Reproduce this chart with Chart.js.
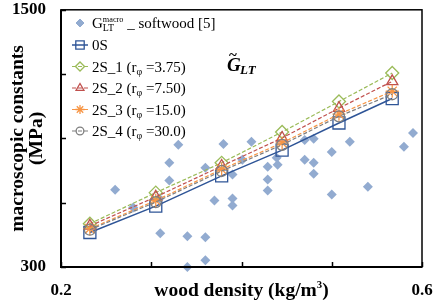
<!DOCTYPE html>
<html>
<head>
<meta charset="utf-8">
<script src="https://cdn.jsdelivr.net/npm/chart.js@4.4.1/dist/chart.umd.min.js"></script>
<style>
  html, body { margin: 0; padding: 0; background: #fff; }
  #wrap { width: 442px; height: 307px; position: relative; }
</style>
</head>
<body>
<div id="wrap"><canvas id="chart" width="442" height="307"></canvas></div>
<script>
// measured G_LT (softwood), scatter points
const refDensity = [0.260, 0.280, 0.309, 0.310, 0.320, 0.320, 0.330, 0.340, 0.340, 0.360,
  0.360, 0.360, 0.370, 0.380, 0.390, 0.390, 0.390, 0.401, 0.411, 0.429,
  0.429, 0.429, 0.439, 0.440, 0.470, 0.470, 0.480, 0.480, 0.480, 0.500,
  0.500, 0.520, 0.540, 0.580, 0.590];
const refGLT = [661, 578, 620, 458, 786, 703, 870, 444, 300, 763,
  439, 332, 610, 874, 731, 620, 587, 800, 884, 768,
  708, 657, 810, 777, 893, 800, 898, 786, 735, 837,
  638, 884, 675, 861, 925];

// model predictions
const modelDensity = [0.232, 0.305, 0.378, 0.445, 0.508, 0.567];
const g0S  = [461, 584, 725, 845, 972, 1086];
const g2S1 = [502, 647, 786, 930, 1072, 1205];
const g2S2 = [492, 627, 771, 902, 1041, 1166];
const g2S3 = [479, 610, 756, 879, 1013, 1120];
const g2S4 = [474, 603, 748, 870, 1003, 1106];

const seriesLabels = [
  'G_{LT}^{macro} _ softwood [5]',
  '0S',
  '2S_1 (r_{φ} =3.75)',
  '2S_2 (r_{φ} =7.50)',
  '2S_3 (r_{φ} =15.0)',
  '2S_4 (r_{φ} =30.0)'
];

const xTicks = [0.2, 0.6];
const yTicks = [300, 1500];

const SERIF = '"Liberation Serif", "Times New Roman", serif';

function pts(xs, ys) {
  return xs.map((x, i) => ({ x: x, y: ys[i] }));
}

function lineSet(label, ys, color, style, radius, dashed, order) {
  return {
    type: 'line',
    label: label,
    data: pts(modelDensity, ys),
    borderColor: color,
    borderWidth: dashed ? 1.2 : 1.5,
    borderDash: dashed ? [4, 2] : [],
    pointStyle: style,
    pointRadius: radius,
    pointBorderColor: color,
    pointBorderWidth: 1.3,
    pointBackgroundColor: 'rgba(255,255,255,0)',
    showLine: true,
    fill: false,
    order: order
  };
}

// small rich text helper: _{sub} and ^{sup}
function parseRich(str) {
  const segs = [];
  const re = /([_^])\{([^}]*)\}/g;
  let last = 0, m;
  while ((m = re.exec(str))) {
    if (m.index > last) segs.push({ t: str.slice(last, m.index), k: 'n' });
    segs.push({ t: m[2], k: m[1] === '_' ? 'sub' : 'sup' });
    last = re.lastIndex;
  }
  if (last < str.length) segs.push({ t: str.slice(last), k: 'n' });
  return segs;
}

function layoutRich(ctx, str, size, style) {
  let x = 0, prev = null;
  const items = [];
  for (const s of parseRich(str)) {
    const sz = s.k === 'n' ? size : (s.k === 'sup' ? size * 0.55 : size * 0.66);
    const font = `${style} ${sz}px ${SERIF}`;
    ctx.font = font;
    const w = ctx.measureText(s.t).width;
    let sx = x;
    if (s.k === 'sup' && prev && prev.k === 'sub') {
      sx = prev.x;
      x = Math.max(prev.x + prev.w, sx + w);
    } else {
      x = sx + w;
    }
    const dy = s.k === 'sub' ? size * 0.22 : (s.k === 'sup' ? -size * 0.42 : 0);
    const it = { t: s.t, k: s.k, x: sx, w: w, dy: dy, font: font };
    items.push(it);
    prev = it;
  }
  return { items: items, width: x };
}

function drawRich(ctx, str, x, y, size, style, align) {
  const lay = layoutRich(ctx, str, size, style);
  let x0 = x;
  if (align === 'center') x0 = x - lay.width / 2;
  ctx.textAlign = 'left';
  ctx.textBaseline = 'alphabetic';
  for (const it of lay.items) {
    ctx.font = it.font;
    ctx.fillText(it.t, x0 + it.x, y + it.dy);
  }
}

const decor = {
  id: 'decor',
  afterDatasetsDraw(chart) {
    const ctx = chart.ctx;
    const a = chart.chartArea;
    const xs = chart.scales.x, ys = chart.scales.y;
    ctx.save();

    // frame
    ctx.strokeStyle = '#000';
    ctx.lineWidth = 1.5;
    ctx.strokeRect(a.left, a.top, a.right - a.left, a.bottom - a.top);
    ctx.lineWidth = 2;
    ctx.beginPath();
    ctx.moveTo(a.left, a.top);
    ctx.lineTo(a.left, a.bottom);
    ctx.lineTo(a.right, a.bottom);
    ctx.stroke();

    // inward tick marks
    ctx.lineWidth = 1.5;
    ctx.beginPath();
    xs.ticks.forEach(t => {
      const px = Math.round(xs.getPixelForValue(t.value)) + 0.5;
      ctx.moveTo(px, a.bottom);
      ctx.lineTo(px, a.bottom - 5);
    });
    ys.ticks.forEach(t => {
      const py = Math.round(ys.getPixelForValue(t.value)) + 0.5;
      ctx.moveTo(a.left, py);
      ctx.lineTo(a.left + 5, py);
    });
    ctx.stroke();

    // legend
    ctx.fillStyle = '#000';
    const rowY = [23, 45, 66.5, 88, 109.5, 131];
    chart.data.datasets.forEach((ds, i) => {
      const cy = rowY[i];
      if (ds.showLine) {
        ctx.save();
        ctx.strokeStyle = ds.borderColor;
        ctx.lineWidth = ds.borderWidth;
        ctx.setLineDash(ds.borderDash || []);
        ctx.beginPath();
        ctx.moveTo(72, cy);
        ctx.lineTo(88, cy);
        ctx.stroke();
        ctx.restore();
      }
      ctx.save();
      ctx.strokeStyle = ds.pointBorderColor;
      ctx.fillStyle = ds.pointBackgroundColor;
      ctx.lineWidth = ds.pointBorderWidth || 1;
      Chart.helpers.drawPoint(ctx, {
        pointStyle: ds.pointStyle,
        rotation: 0,
        borderWidth: ds.pointBorderWidth || 1,
        radius: ds.showLine ? ds.pointRadius * 0.7 : 4
      }, 80, cy);
      ctx.restore();
      ctx.fillStyle = '#000';
      drawRich(ctx, seriesLabels[i], 92, cy + 5, 15, 'normal', 'left');
    });

    // panel label
    ctx.fillStyle = '#000';
    ctx.font = `italic bold 19px ${SERIF}`;
    ctx.textBaseline = 'alphabetic';
    ctx.textAlign = 'left';
    ctx.fillText('G', 227, 71);
    ctx.font = `bold 15px ${SERIF}`;
    ctx.fillText('~', 229, 60);
    ctx.font = `italic bold 13px ${SERIF}`;
    ctx.fillText('LT', 240, 74);

    // axis titles
    const cx = (a.left + a.right) / 2;
    drawRich(ctx, 'wood density (kg/m^{3})', cx, 296, 19.5, 'bold', 'center');
    ctx.save();
    ctx.translate(23, (a.top + a.bottom) / 2);
    ctx.rotate(-Math.PI / 2);
    drawRich(ctx, 'macroscopic constants', 0, 0, 19.5, 'bold', 'center');
    drawRich(ctx, '(MPa)', 0, 19, 19.5, 'bold', 'center');
    ctx.restore();

    ctx.restore();
  }
};

const ctx = document.getElementById('chart').getContext('2d');
const chart = new Chart(ctx, {
  type: 'scatter',
  data: {
    datasets: [
      {
        label: seriesLabels[0],
        data: pts(refDensity, refGLT),
        pointStyle: 'rectRot',
        pointRadius: 5,
        pointBackgroundColor: '#92abd0',
        pointBorderColor: '#92abd0',
        pointBorderWidth: 0,
        showLine: false,
        clip: false,
        order: 10
      },
      lineSet(seriesLabels[1], g0S, '#2f5597', 'rect', 8.5, false, 5),
      lineSet(seriesLabels[2], g2S1, '#9bbb59', 'rectRot', 6.5, true, 4),
      lineSet(seriesLabels[3], g2S2, '#c0504d', 'triangle', 6.5, true, 3),
      lineSet(seriesLabels[4], g2S3, '#f79646', 'star', 6.5, true, 2),
      lineSet(seriesLabels[5], g2S4, '#7f7f7f', 'circle', 5.5, true, 1)
    ]
  },
  options: {
    responsive: false,
    animation: false,
    layout: { padding: { left: 13, right: 20, top: 9, bottom: 0 } },
    plugins: {
      legend: { display: false },
      tooltip: { enabled: false }
    },
    scales: {
      x: {
        type: 'linear',
        min: 0.2,
        max: 0.6,
        grid: { display: false, drawTicks: false },
        border: { display: false },
        ticks: {
          stepSize: 0.1,
          autoSkip: false,
          maxRotation: 0,
          padding: 13,
          color: '#000',
          font: { family: SERIF, size: 17, weight: 'bold' },
          callback: v => xTicks.some(t => Math.abs(t - v) < 1e-6) ? v.toFixed(1) : ''
        },
        afterFit: s => { s.height = 40; s.paddingLeft = 0; s.paddingRight = 0; }
      },
      y: {
        min: 300,
        max: 1500,
        grid: { display: false, drawTicks: false },
        border: { display: false },
        ticks: {
          stepSize: 300,
          autoSkip: false,
          padding: 15,
          color: '#000',
          font: { family: SERIF, size: 17, weight: 'bold' },
          callback: v => yTicks.includes(v) ? String(v) : ''
        },
        afterFit: s => { s.width = 48; s.paddingTop = 0; s.paddingBottom = 0; }
      }
    }
  },
  plugins: [decor]
});
</script>
</body>
</html>
